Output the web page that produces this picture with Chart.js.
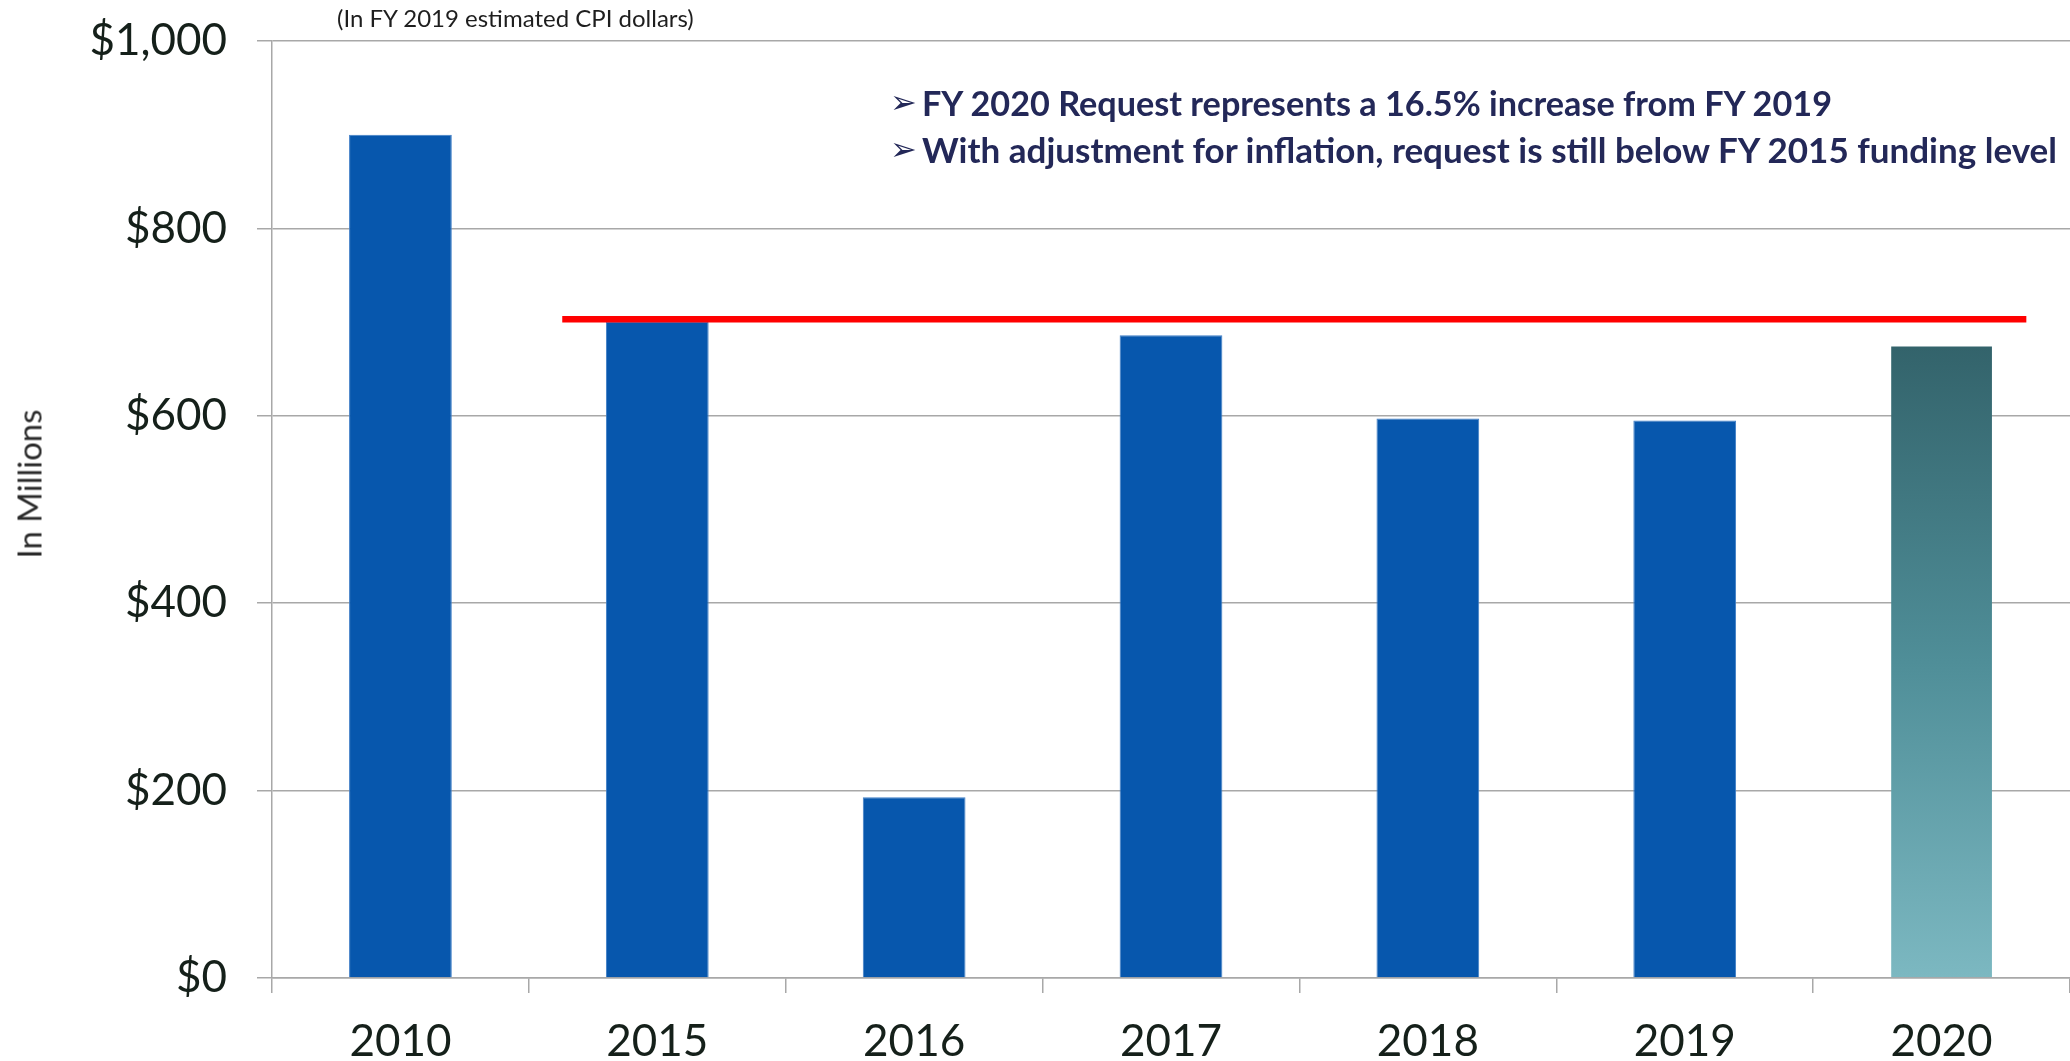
<!DOCTYPE html>
<html>
<head>
<meta charset="utf-8">
<script src="https://cdn.jsdelivr.net/npm/chart.js@4.4.1/dist/chart.umd.min.js"></script>
<style>
  html, body { margin: 0; padding: 0; background: #ffffff; width: 2070px; height: 1061px; overflow: hidden; }
  #wrap { position: relative; width: 2070px; height: 1061px; }
  #chart { position: absolute; left: 0; top: 0; }
  .sub { position: absolute; left: 337px; top: 17px; transform: translateY(-50%); font-family: Lato, "Open Sans", sans-serif; font-size: 24px; color: #1e1e1e; white-space: nowrap; }
  .arrow { position: absolute; left: 890px; font-family: "DejaVu Sans", sans-serif; font-size: 32px; color: #232858; transform: translateY(-50%); line-height: 1; }
  .note { position: absolute; left: 922px; font-family: Lato, "Open Sans", sans-serif; font-weight: 700; font-size: 35px; color: #232858; white-space: nowrap; transform-origin: 0 50%; line-height: 1; }
  .ytitle { position: absolute; left: 29px; top: 484px; font-family: Lato, "Open Sans", sans-serif; font-size: 33px; color: #2a2a2a; white-space: nowrap; transform: translate(-50%, -50%) rotate(-90deg); line-height: 1; }
</style>
</head>
<body>
<div id="wrap">
  <canvas id="chart" width="2070" height="1061"></canvas>
  <div class="sub" id="subtitle"></div>
  <div class="ytitle" id="ytitle"></div>
  <div class="arrow" style="top:102px">➢</div>
  <div class="arrow" style="top:149px">➢</div>
  <div class="note" id="note1" data-target="910" style="top:102px"></div>
  <div class="note" id="note2" data-target="1135" style="top:149px"></div>
</div>
<script>
// ---- data ----
const categories = ['2010', '2015', '2016', '2017', '2018', '2019', '2020'];
const fundingValues = [900, 700, 193, 686, 597, 595, 675];
const referenceLevel = 703;            // FY 2015 funding level line
const referenceSpan = [0.63, 6.33];    // category-index extent of the red line
const yTickValues = [0, 200, 400, 600, 800, 1000];
const yAxisTitle = 'In Millions';
const subtitleText = '(In FY 2019 estimated CPI dollars)';
const noteLines = [
  'FY 2020 Request represents a 16.5% increase from FY 2019',
  'With adjustment for inflation, request is still below FY 2015 funding level'
];

// ---- text overlays ----
document.getElementById('subtitle').textContent = subtitleText;
document.getElementById('ytitle').textContent = yAxisTitle;
['note1', 'note2'].forEach((id, i) => {
  const el = document.getElementById(id);
  el.textContent = noteLines[i];
  const w = el.getBoundingClientRect().width;
  const target = parseFloat(el.dataset.target);
  el.style.transform = 'translateY(-50%) scaleX(' + (target / w) + ')';
});

// ---- chart ----
const blue = '#0757ad';
const lastIndex = fundingValues.length - 1;

function barFill(ctx) {
  if (ctx.dataIndex !== lastIndex) return blue;
  const chart = ctx.chart;
  const area = chart.chartArea;
  if (!area) return '#4f8f99';
  const yScale = chart.scales.y;
  const top = yScale.getPixelForValue(fundingValues[lastIndex]);
  const g = chart.ctx.createLinearGradient(0, top, 0, area.bottom);
  g.addColorStop(0, '#33636b');
  g.addColorStop(0.5, '#4f8e98');
  g.addColorStop(1, '#7cb8c1');
  return g;
}

const gridColor = '#a8a8a8';
const tickColor = '#15201a';

new Chart(document.getElementById('chart'), {
  type: 'bar',
  data: {
    labels: categories,
    datasets: [
      {
        type: 'line',
        xAxisID: 'xLine',
        yAxisID: 'y',
        data: referenceSpan.map(x => ({ x: x, y: referenceLevel })),
        borderColor: '#ff0000',
        borderWidth: 6.5,
        pointRadius: 0,
        order: 0
      },
      {
        type: 'bar',
        xAxisID: 'x',
        yAxisID: 'y',
        data: fundingValues,
        backgroundColor: barFill,
        borderColor: ctx => ctx.dataIndex === lastIndex ? 'rgba(0,0,0,0)' : '#3f7ec6',
        borderWidth: 1,
        barPercentage: 0.4,
        categoryPercentage: 1.0,
        grouped: false,
        order: 1
      }
    ]
  },
  options: {
    responsive: false,
    animation: false,
    layout: { padding: { top: 41, right: 0, bottom: 0, left: 0 } },
    plugins: { legend: { display: false }, tooltip: { enabled: false } },
    scales: {
      x: {
        type: 'category',
        offset: true,
        grid: { offset: true, drawOnChartArea: false, drawTicks: true, tickLength: 15, color: gridColor, lineWidth: 1.5 },
        border: { display: true, color: gridColor, width: 1.5 },
        ticks: { font: { family: 'Lato', size: 44 }, color: tickColor, padding: 22, maxRotation: 0 },
        afterFit(s) { s.height = 83; s.paddingLeft = 0; s.paddingRight = 0; }
      },
      xLine: {
        type: 'linear',
        display: false,
        offset: false,
        grid: { offset: false },
        min: -0.5,
        max: categories.length - 0.5
      },
      y: {
        min: yTickValues[0],
        max: yTickValues[yTickValues.length - 1],
        afterBuildTicks(s) { s.ticks = yTickValues.map(v => ({ value: v })); },
        grid: { color: gridColor, lineWidth: 1.5, drawTicks: true, tickLength: 15 },
        border: { display: true, color: gridColor, width: 1.5 },
        ticks: {
          font: { family: 'Lato', size: 44 },
          color: tickColor,
          padding: 30,
          callback: v => '$' + Number(v).toLocaleString('en-US')
        },
        afterFit(s) { s.width = 272; s.paddingTop = 0; s.paddingBottom = 0; }
      }
    }
  }
});
</script>
</body>
</html>
